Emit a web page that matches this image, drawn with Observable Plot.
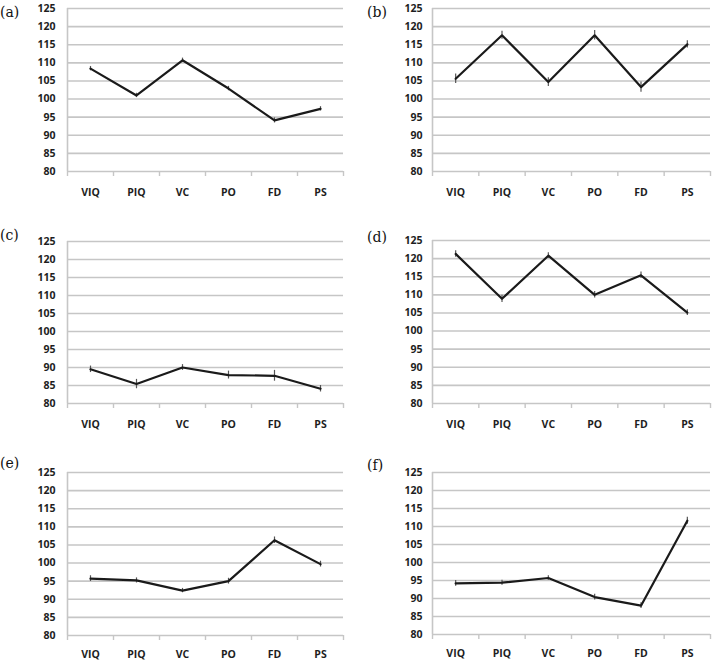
<!DOCTYPE html>
<html>
<head>
<meta charset="utf-8">
<script src="https://cdn.jsdelivr.net/npm/d3@7"></script>
<script src="https://cdn.jsdelivr.net/npm/@observablehq/plot@0.6"></script>
<style>
  html, body { margin: 0; padding: 0; background: #fff; }
  #wrap { position: relative; width: 713px; height: 661px; overflow: hidden; }
  .panel { position: absolute; }
  .lab { position: absolute; font-family: "DejaVu Serif", "Liberation Serif", serif; font-size: 14px; color: #111; line-height: 1; }
</style>
</head>
<body>
<div id="wrap"></div>
<script>
const categories = ["VIQ", "PIQ", "VC", "PO", "FD", "PS"];
const yTicks = [80, 85, 90, 95, 100, 105, 110, 115, 120, 125];
const panelLabels = ["(a)", "(b)", "(c)", "(d)", "(e)", "(f)"];

const valuesA = [108.4, 101.0, 110.7, 102.9, 94.1, 97.3];
const errorsA = [0.6, 0.6, 0.6, 0.6, 0.7, 0.6];
const valuesB = [105.6, 117.6, 104.7, 117.6, 103.3, 115.1];
const errorsB = [1.3, 1.1, 1.2, 1.3, 1.4, 1.0];
const valuesC = [89.5, 85.4, 90.0, 87.9, 87.7, 84.1];
const errorsC = [0.9, 1.3, 0.8, 1.1, 1.5, 0.9];
const valuesD = [121.3, 108.9, 120.8, 110.0, 115.4, 105.1];
const errorsD = [0.9, 1.0, 0.8, 0.9, 0.9, 0.8];
const valuesE = [95.7, 95.2, 92.4, 95.0, 106.3, 99.7];
const errorsE = [0.8, 0.7, 0.6, 0.8, 0.9, 0.8];
const valuesF = [94.2, 94.4, 95.7, 90.4, 88.0, 111.6];
const errorsF = [0.8, 0.7, 0.6, 0.8, 0.8, 1.0];

const wrap = document.getElementById("wrap");

function panel(vals, errs, label, box) {
  const data = categories.map((c, i) => ({ i: i + 0.5, c, v: vals[i], e: errs[i] }));
  const chart = Plot.plot({
    width: box.width,
    height: box.height,
    marginLeft: box.ml,
    marginRight: box.mr,
    marginTop: box.mt,
    marginBottom: box.mb,
    x: { domain: [0, 6], axis: null, label: null },
    y: { domain: [80, 125], axis: null, label: null },
    style: { fontFamily: "'Open Sans', 'Liberation Sans', sans-serif", fontSize: "10.5px", fontWeight: "bold", color: "#1e1e1e", background: "transparent", overflow: "visible" },
    marks: [
      Plot.ruleY(yTicks, { stroke: "#c6c6c6", strokeWidth: 1.6 }),
      Plot.ruleX([0], { stroke: "#c6c6c6", strokeWidth: 1.6 }),
      Plot.axisX({ ticks: d3.range(7), tickSize: 5, tickFormat: () => "", label: null, stroke: "#c6c6c6", strokeWidth: 1.4 }),
      Plot.axisX({ ticks: data.map(d => d.i), tickSize: 0, tickPadding: box.xpad, label: null, tickFormat: d => categories[Math.round(d - 0.5)] }),
      Plot.axisY({ ticks: yTicks, tickSize: 0, tickPadding: box.ypad, label: null, tickFormat: d => String(d) }),
      Plot.ruleX(data, { x: "i", y1: d => d.v - d.e, y2: d => d.v + d.e, stroke: "#555", strokeWidth: 1.2 }),
      Plot.line(data, { x: "i", y: "v", stroke: "#1a1a1a", strokeWidth: 2.2 })
    ]
  });
  chart.classList.add("panel");
  chart.style.left = box.left + "px";
  chart.style.top = box.top + "px";
  wrap.appendChild(chart);
  const lab = document.createElement("div");
  lab.className = "lab";
  lab.textContent = label;
  lab.style.left = box.lx + "px";
  lab.style.top = box.ly + "px";
  wrap.appendChild(lab);
}

const leftCol = { left: 0, width: 355, ml: 67, mr: 12, ypad: 12 };
const rightCol = { left: 355, width: 358, ml: 77, mr: 3, ypad: 10 };

panel(valuesA, errorsA, panelLabels[0], { ...leftCol, top: 0, height: 201, mt: 8, mb: 30, xpad: 17, lx: 0, ly: 5 });
panel(valuesB, errorsB, panelLabels[1], { ...rightCol, top: 0, height: 201, mt: 8, mb: 30, xpad: 17, lx: 367, ly: 5 });
panel(valuesC, errorsC, panelLabels[2], { ...leftCol, top: 220, height: 213, mt: 21, mb: 30, xpad: 17, lx: 0, ly: 228 });
panel(valuesD, errorsD, panelLabels[3], { ...rightCol, top: 220, height: 213, mt: 20, mb: 30, xpad: 17, lx: 367, ly: 230 });
panel(valuesE, errorsE, panelLabels[4], { ...leftCol, top: 440, height: 221, mt: 32, mb: 26, xpad: 15, lx: 0, ly: 456 });
panel(valuesF, errorsF, panelLabels[5], { ...rightCol, top: 440, height: 221, mt: 32, mb: 27, xpad: 15, lx: 367, ly: 458 });
</script>
</body>
</html>
